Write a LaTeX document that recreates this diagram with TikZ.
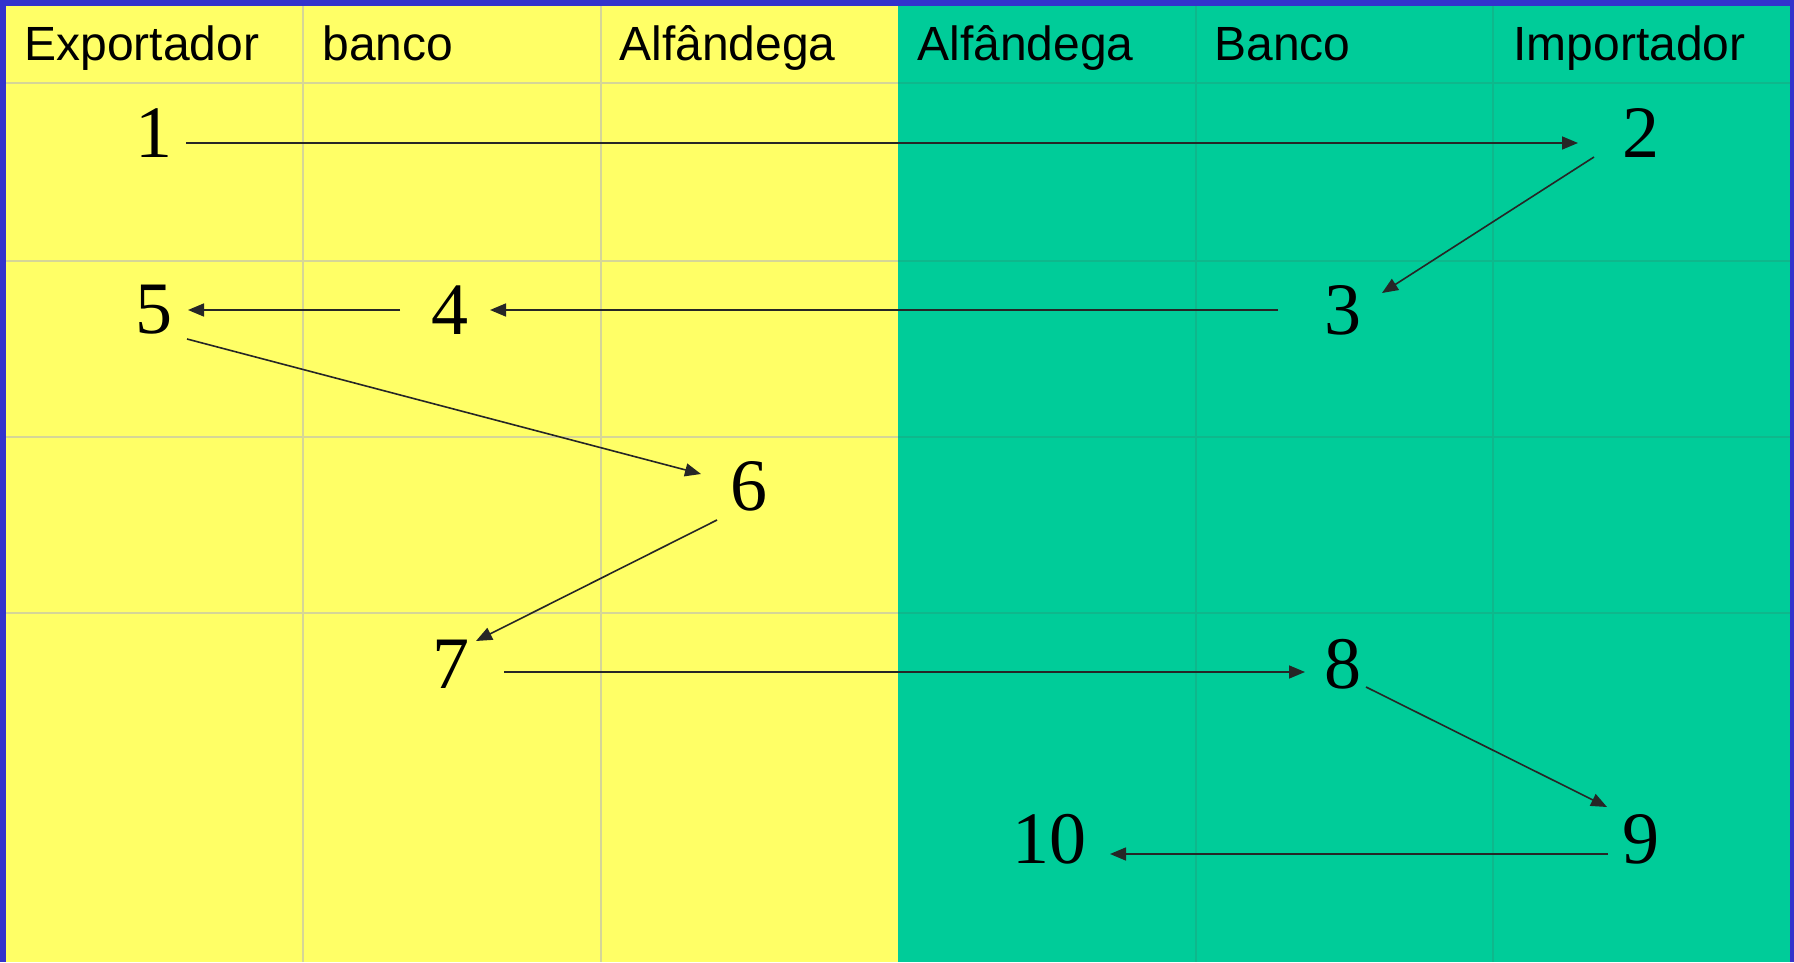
\documentclass[tikz,border=0pt]{standalone}
\usepackage{fontspec}
\setmainfont{Liberation Serif}
\newfontfamily\headfont{Liberation Sans}
\usetikzlibrary{arrows.meta}
\definecolor{frameblue}{RGB}{51,51,204}
\definecolor{expyellow}{RGB}{255,255,102}
\definecolor{impgreen}{RGB}{0,204,153}
\definecolor{yline}{RGB}{214,214,150}
\definecolor{gline}{RGB}{14,184,140}

\begin{document}
\begin{tikzpicture}[x=0.5pt,y=-0.5pt,
  head/.style={anchor=base west,inner sep=0pt,font=\headfont\fontsize{24}{28}\selectfont},
  num/.style={inner sep=0pt,font=\fontsize{37}{40}\selectfont},
  flow/.style={draw=black!85,line width=0.8pt,-{Triangle[length=8pt,width=6.5pt]}}]
% background and the two halves
\fill[frameblue] (0,0) rectangle (1794,962);
\fill[expyellow] (6,6) rectangle (898,962);
\fill[impgreen] (898,6) rectangle (1790,962);
% grid
\foreach \y in {83,261,437,613}{
  \draw[yline,line width=0.6pt] (6,\y) -- (898,\y);
  \draw[gline,line width=0.6pt] (898,\y) -- (1790,\y);
}
\foreach \x in {303,601} \draw[yline,line width=0.6pt] (\x,6) -- (\x,962);
\foreach \x in {1196,1493} \draw[gline,line width=0.6pt] (\x,6) -- (\x,962);
% column titles
\node[head] (exp) at (24,61) {Exportador};
\node[head] (bexp) at (322,61) {banco};
\node[head] (aexp) at (619,61) {Alfândega};
\node[head] (aimp) at (917,61) {Alfândega};
\node[head] (bimp) at (1214,61) {Banco};
\node[head] (imp) at (1513,61) {Importador};
% steps
\node[num] (n1) at (154,133) {1};
\node[num] (n2) at (1641,133) {2};
\node[num] (n3) at (1343,310) {3};
\node[num] (n4) at (450,310) {4};
\node[num] (n5) at (154,310) {5};
\node[num] (n6) at (749,486) {6};
\node[num] (n7) at (451,664) {7};
\node[num] (n8) at (1343,664) {8};
\node[num] (n9) at (1641,839) {9};
\node[num] (n10) at (1049,839) {10};
% arrows
\draw[flow] ([shift={(32,10)}]n1.center) -- ([shift={(-63,10)}]n2.center);
\draw[flow] ([shift={(-47,24)}]n2.center) -- ([shift={(39,-17)}]n3.center);
\draw[flow] ([shift={(-65,0)}]n3.center) -- ([shift={(40,0)}]n4.center);
\draw[flow] ([shift={(-50,0)}]n4.center) -- ([shift={(34,0)}]n5.center);
\draw[flow] ([shift={(33,29)}]n5.center) -- ([shift={(-48,-12)}]n6.center);
\draw[flow] ([shift={(-32,34)}]n6.center) -- ([shift={(25,-23)}]n7.center);
\draw[flow] ([shift={(53,8)}]n7.center) -- ([shift={(-38,8)}]n8.center);
\draw[flow] ([shift={(23,23)}]n8.center) -- ([shift={(-34,-32)}]n9.center);
\draw[flow] ([shift={(-33,15)}]n9.center) -- ([shift={(61,15)}]n10.center);
\end{tikzpicture}
\end{document}
